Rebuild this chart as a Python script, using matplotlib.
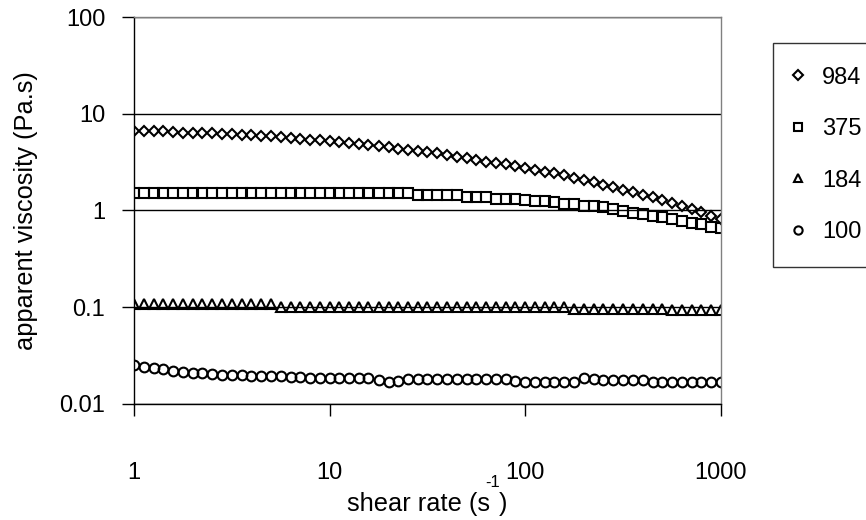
"""
Apparent viscosity vs shear rate for four samples (log-log, Excel-style chart).
"""

import matplotlib
matplotlib.use("Agg")
import matplotlib.pyplot as plt

# ==============================
# DATA
# ==============================
SHEAR_RATE = [
    1.00, 1.12, 1.26, 1.41, 1.58, 1.78, 2.00, 2.24, 2.51, 2.82,
    3.16, 3.55, 3.98, 4.47, 5.01, 5.62, 6.31, 7.08, 7.94, 8.91,
    10.0, 11.2, 12.6, 14.1, 15.8, 17.8, 20.0, 22.4, 25.1, 28.2,
    31.6, 35.5, 39.8, 44.7, 50.1, 56.2, 63.1, 70.8, 79.4, 89.1,
    100, 112, 126, 141, 158, 178, 200, 224, 251, 282,
    316, 355, 398, 447, 501, 562, 631, 708, 794, 891,
    1000,
]

VISC_984 = [
    6.70, 6.70, 6.65, 6.60, 6.45, 6.40, 6.35, 6.30, 6.30, 6.20,
    6.15, 6.10, 6.05, 5.95, 5.85, 5.70, 5.60, 5.50, 5.40, 5.30,
    5.20, 5.05, 4.95, 4.85, 4.75, 4.65, 4.50, 4.35, 4.25, 4.15,
    4.00, 3.90, 3.75, 3.60, 3.45, 3.35, 3.20, 3.10, 3.00, 2.88,
    2.75, 2.62, 2.52, 2.42, 2.33, 2.18, 2.07, 1.98, 1.84, 1.74,
    1.64, 1.56, 1.46, 1.37, 1.28, 1.20, 1.11, 1.03, 0.97, 0.88,
    0.81,
]

VISC_375 = [
    1.52, 1.52, 1.52, 1.52, 1.52, 1.52, 1.52, 1.52, 1.52, 1.52,
    1.52, 1.52, 1.52, 1.52, 1.52, 1.52, 1.52, 1.52, 1.52, 1.52,
    1.52, 1.52, 1.52, 1.52, 1.52, 1.52, 1.52, 1.52, 1.52, 1.43,
    1.43, 1.43, 1.43, 1.43, 1.37, 1.37, 1.37, 1.32, 1.32, 1.32,
    1.29, 1.26, 1.26, 1.21, 1.17, 1.17, 1.11, 1.11, 1.08, 1.03,
    0.99, 0.95, 0.92, 0.88, 0.85, 0.81, 0.785, 0.75, 0.725, 0.68,
    0.655,
]

VISC_184 = [
    0.108, 0.108, 0.108, 0.108, 0.108, 0.108, 0.108, 0.108, 0.108, 0.108,
    0.108, 0.108, 0.108, 0.108, 0.108, 0.100, 0.100, 0.100, 0.100, 0.100,
    0.100, 0.100, 0.100, 0.100, 0.100, 0.100, 0.100, 0.100, 0.100, 0.100,
    0.100, 0.100, 0.100, 0.100, 0.100, 0.100, 0.100, 0.100, 0.100, 0.100,
    0.100, 0.100, 0.100, 0.100, 0.100, 0.097, 0.097, 0.097, 0.097, 0.097,
    0.097, 0.097, 0.097, 0.097, 0.097, 0.093, 0.093, 0.093, 0.093, 0.093,
    0.093,
]

VISC_100 = [
    0.0253, 0.0240, 0.0238, 0.0228, 0.0217, 0.0215, 0.0211, 0.0208, 0.0204, 0.0201,
    0.0201, 0.0200, 0.0196, 0.0195, 0.0195, 0.0194, 0.0192, 0.0188, 0.0187, 0.0187,
    0.0187, 0.0187, 0.0187, 0.0187, 0.0186, 0.0177, 0.0170, 0.0174, 0.0180, 0.0180,
    0.0180, 0.0180, 0.0180, 0.0180, 0.0180, 0.0180, 0.0180, 0.0180, 0.0182, 0.0173,
    0.0170, 0.0170, 0.0170, 0.0170, 0.0170, 0.0170, 0.0184, 0.0180, 0.0177, 0.0177,
    0.0177, 0.0177, 0.0177, 0.0170, 0.0170, 0.0170, 0.0170, 0.0170, 0.0170, 0.0170,
    0.0170,
]

SERIES_LABELS = ["984", "375", "184", "100"]
X_TICKS = [1, 10, 100, 1000]
X_TICK_LABELS = ["1", "10", "100", "1000"]
Y_TICKS = [0.01, 0.1, 1, 10, 100]
Y_TICK_LABELS = ["0.01", "0.1", "1", "10", "100"]

OUTPUT_FILE = "out.png"
TICK_SIZE = 17
TITLE_SIZE = 18.3


def plot_viscosity(output_file):
    plt.rcParams["font.family"] = ["Liberation Sans", "DejaVu Sans"]

    fig = plt.figure(figsize=(8.66, 5.2), dpi=100)
    ax = fig.add_axes([0.1547, 0.2231, 0.6778, 0.7442])

    series = [
        (VISC_984, "D", 5.6),
        (VISC_375, "s", 7.0),
        (VISC_184, "^", 7.4),
        (VISC_100, "o", 7.0),
    ]
    for (values, marker, size), label in zip(series, SERIES_LABELS):
        ax.plot(SHEAR_RATE, values, linestyle="none", marker=marker,
                markersize=size, markerfacecolor="none",
                markeredgecolor="black", markeredgewidth=1.5, label=label)

    ax.set_xscale("log")
    ax.set_yscale("log")
    ax.set_xlim(1, 1000)
    ax.set_ylim(0.01, 100)
    ax.set_xticks(X_TICKS)
    ax.set_xticklabels(X_TICK_LABELS)
    ax.set_yticks(Y_TICKS)
    ax.set_yticklabels(Y_TICK_LABELS)
    ax.xaxis.set_minor_locator(matplotlib.ticker.NullLocator())
    ax.yaxis.set_minor_locator(matplotlib.ticker.NullLocator())

    ax.yaxis.grid(True, color="black", linewidth=1.0)
    ax.set_axisbelow(True)
    for side in ["top", "right"]:
        ax.spines[side].set_color("#808080")
    for side in ax.spines:
        ax.spines[side].set_linewidth(1.0)

    ax.tick_params(axis="both", direction="out", length=8.6, width=1,
                   labelsize=TICK_SIZE, colors="black")
    ax.tick_params(axis="x", pad=33)
    ax.tick_params(axis="y", pad=12)

    # x title drawn in pieces so the "-1" sits raised like the original
    fig.text(347 / 866, 1 - 511 / 520, "shear rate (s", fontsize=TITLE_SIZE,
             ha="left", va="baseline")
    fig.text(485 / 866, 1 - 487 / 520, "-1", fontsize=12,
             ha="left", va="baseline")
    fig.text(499 / 866, 1 - 511 / 520, ")", fontsize=TITLE_SIZE,
             ha="left", va="baseline")

    ax.set_ylabel("apparent viscosity (Pa.s)", fontsize=TITLE_SIZE)
    ax.yaxis.set_label_coords(-0.163, 0.5)

    leg = fig.legend(loc="upper left", bbox_to_anchor=(773 / 866, 1 - 43 / 520),
                     fontsize=TICK_SIZE, frameon=True, fancybox=False,
                     edgecolor="black", borderpad=1.0, labelspacing=1.25,
                     handlelength=0.12, handletextpad=0.95, markerscale=0.85,
                     borderaxespad=0)
    leg.get_frame().set_linewidth(1.0)

    fig.savefig(output_file, dpi=100)


if __name__ == "__main__":
    plot_viscosity(OUTPUT_FILE)
